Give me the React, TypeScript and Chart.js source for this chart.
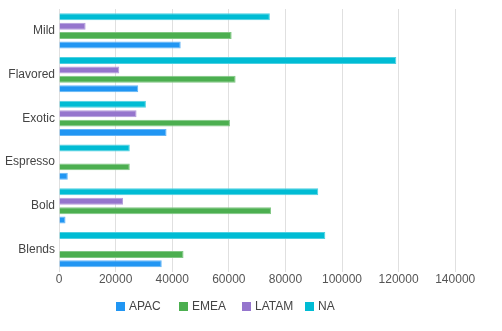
import React, { useEffect, useRef } from "react";
import { Chart, registerables } from "chart.js";

Chart.register(...registerables);

const categories = ["Mild", "Flavored", "Exotic", "Espresso", "Bold", "Blends"];
const apacValues = [43000, 28000, 38000, 3100, 2300, 36300];
const emeaValues = [61000, 62400, 60400, 25000, 74900, 44000];
const latamValues = [9400, 21300, 27400, 0, 22600, 0];
const naValues = [74500, 119200, 30700, 25000, 91600, 94100];
const xTicks = [0, 20000, 40000, 60000, 80000, 100000, 120000, 140000];

const seriesNames = ["APAC", "EMEA", "LATAM", "NA"];
const seriesColors = ["#2196F3", "#4CAF50", "#9575CD", "#00BCD4"];
const seriesBorders = ["#64B5F6", "#81C784", "#B39DDB", "#4DD0E1"];

const FONT = "'Liberation Sans', Arial, sans-serif";

const legendPlugin = {
  id: "fixedLegend",
  afterDraw(chart: any) {
    const ctx = chart.ctx;
    const startX = 116;
    const itemW = 63;
    const boxSize = 9;
    const cy = 306.5;
    ctx.save();
    ctx.font = `12px ${FONT}`;
    ctx.textBaseline = "middle";
    ctx.textAlign = "left";
    seriesNames.forEach((name, i) => {
      const x = startX + itemW * i;
      ctx.fillStyle = seriesColors[i];
      ctx.fillRect(x, cy - boxSize / 2, boxSize, boxSize);
      ctx.fillStyle = "#444";
      ctx.fillText(name, x + 13, cy + 0.5);
    });
    ctx.restore();
  },
};

export default function App() {
  const ref = useRef<HTMLCanvasElement>(null);
  useEffect(() => {
    if (!ref.current) return;
    const values = [apacValues, emeaValues, latamValues, naValues];
    // draw NA on top within each group: datasets in reverse order
    const order = [3, 2, 1, 0];
    const chart = new Chart(ref.current, {
      type: "bar",
      data: {
        labels: categories,
        datasets: order.map((i) => ({
          label: seriesNames[i],
          data: values[i],
          backgroundColor: seriesColors[i],
          borderColor: seriesBorders[i],
          borderWidth: 1,
          categoryPercentage: 0.86,
          barPercentage: 0.74,
        })),
      },
      options: {
        indexAxis: "y",
        animation: false,
        responsive: false,
        maintainAspectRatio: false,
        layout: { padding: { top: 9, right: 10, left: 1, bottom: 43 } },
        scales: {
          x: {
            min: 0,
            max: 153000,
            afterBuildTicks: (scale: any) => {
              scale.ticks = xTicks.map((v) => ({ value: v }));
            },
            grid: { color: "#e0e0e0", drawTicks: false },
            border: { display: false },
            ticks: {
              color: "#555",
              padding: 1,
              callback: (v: any) => String(v),
              font: { family: FONT, size: 12 },
            },
          },
          y: {
            afterFit: (scale: any) => {
              scale.paddingTop = 0;
              scale.paddingBottom = 0;
            },
            grid: { display: false, drawTicks: false },
            border: { display: false },
            ticks: {
              color: "#444",
              padding: 4,
              font: { family: FONT, size: 12 },
            },
          },
        },
        plugins: {
          legend: { display: false },
          tooltip: { enabled: false },
        },
      },
      plugins: [legendPlugin],
    });
    return () => chart.destroy();
  }, []);
  return (
    <div style={{ position: "absolute", left: 0, top: 0, width: 502, height: 331, background: "#fff" }}>
      <canvas ref={ref} width={502} height={331} />
    </div>
  );
}
